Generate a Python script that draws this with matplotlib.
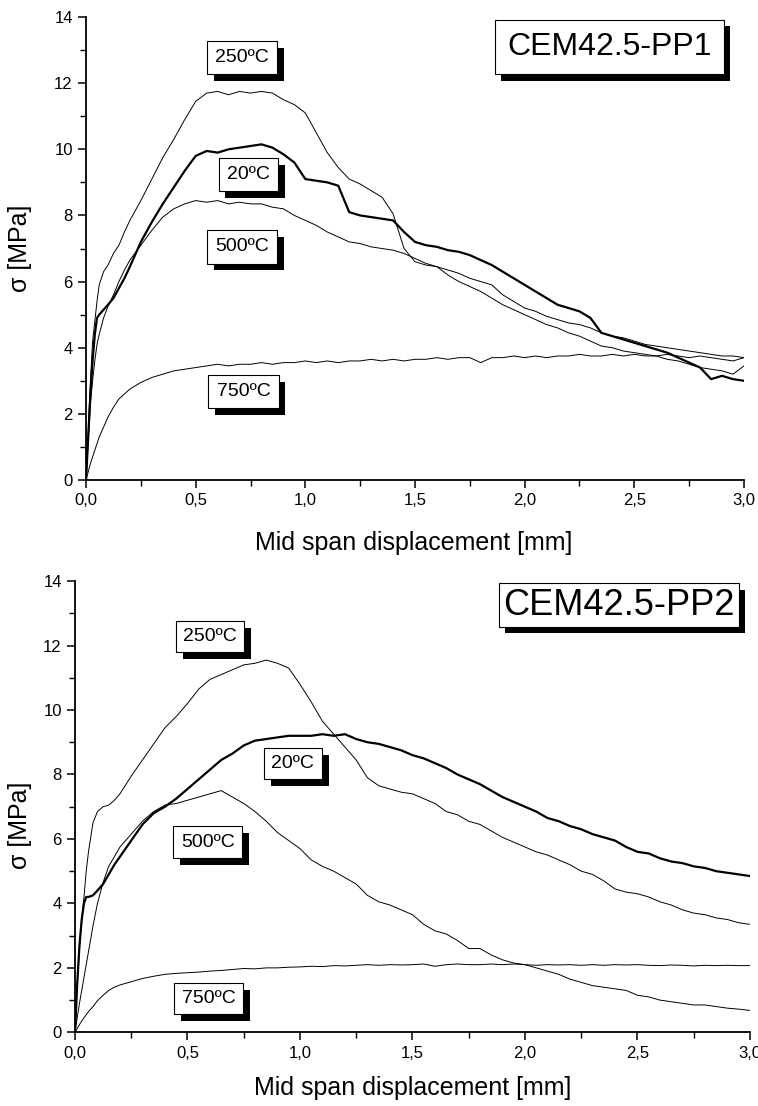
import matplotlib
matplotlib.use("Agg")
import matplotlib.pyplot as plt
import matplotlib.patheffects as pe
from matplotlib.ticker import MultipleLocator, FuncFormatter

plt.rcParams['font.family'] = ['Liberation Sans', 'DejaVu Sans']

# displacement grid (mm), shared by all curves
x = [0, 0.01, 0.02, 0.03, 0.04, 0.05, 0.06, 0.08, 0.10, 0.125, 0.15, 0.175, 0.20,
     0.25, 0.30, 0.35, 0.40, 0.45, 0.50, 0.55, 0.60, 0.65, 0.70, 0.75, 0.80, 0.85,
     0.90, 0.95, 1.00, 1.05, 1.10, 1.15, 1.20, 1.25, 1.30, 1.35, 1.40, 1.45, 1.50,
     1.55, 1.60, 1.65, 1.70, 1.75, 1.80, 1.85, 1.90, 1.95, 2.00, 2.05, 2.10, 2.15,
     2.20, 2.25, 2.30, 2.35, 2.40, 2.45, 2.50, 2.55, 2.60, 2.65, 2.70, 2.75, 2.80,
     2.85, 2.90, 2.95, 3.00]

# CEM42.5-PP1 stress (MPa)
pp1_20 = [0, 1.3, 2.6, 3.6, 4.4, 4.9, 5.0, 5.15, 5.3, 5.5, 5.8, 6.1, 6.45,
          7.2, 7.8, 8.35, 8.85, 9.35, 9.8, 9.95, 9.9, 10.0, 10.05, 10.1, 10.15, 10.05,
          9.85, 9.6, 9.1, 9.05, 9.0, 8.9, 8.1, 8.0, 7.95, 7.9, 7.85, 7.5, 7.2,
          7.1, 7.05, 6.95, 6.9, 6.8, 6.65, 6.5, 6.3, 6.1, 5.9, 5.7, 5.5, 5.3,
          5.2, 5.1, 4.9, 4.45, 4.35, 4.25, 4.15, 4.05, 3.95, 3.85, 3.7, 3.55, 3.4,
          3.05, 3.15, 3.05, 3.0]
pp1_250 = [0, 1.5, 3.0, 4.2, 4.8, 5.4, 5.9, 6.3, 6.5, 6.85, 7.1, 7.5, 7.85,
           8.45, 9.1, 9.75, 10.3, 10.9, 11.45, 11.7, 11.75, 11.65, 11.75, 11.7, 11.75, 11.7,
           11.5, 11.35, 11.1, 10.5, 9.9, 9.45, 9.1, 8.95, 8.75, 8.55, 8.05, 7.0, 6.6,
           6.5, 6.45, 6.35, 6.25, 6.1, 6.0, 5.9, 5.6, 5.4, 5.2, 5.1, 4.95, 4.85,
           4.75, 4.7, 4.6, 4.45, 4.35, 4.3, 4.2, 4.1, 4.05, 4.0, 3.95, 3.9, 3.85,
           3.8, 3.75, 3.75, 3.7]
pp1_500 = [0, 1.2, 2.3, 3.0, 3.6, 4.1, 4.4, 4.9, 5.25, 5.6, 6.0, 6.35, 6.65,
           7.1, 7.55, 7.95, 8.2, 8.35, 8.45, 8.4, 8.45, 8.35, 8.4, 8.35, 8.35, 8.25,
           8.2, 8.0, 7.85, 7.7, 7.5, 7.35, 7.2, 7.15, 7.05, 7.0, 6.95, 6.85, 6.7,
           6.55, 6.45, 6.2, 6.0, 5.85, 5.7, 5.5, 5.3, 5.15, 5.0, 4.85, 4.7, 4.6,
           4.45, 4.35, 4.2, 4.05, 4.0, 3.9, 3.85, 3.8, 3.75, 3.65, 3.6, 3.5, 3.4,
           3.35, 3.3, 3.2, 3.45]
pp1_750 = [0, 0.25, 0.5, 0.7, 0.9, 1.1, 1.3, 1.6, 1.9, 2.2, 2.45, 2.6, 2.75,
           2.95, 3.1, 3.2, 3.3, 3.35, 3.4, 3.45, 3.5, 3.45, 3.5, 3.5, 3.55, 3.5,
           3.55, 3.55, 3.6, 3.55, 3.6, 3.55, 3.6, 3.6, 3.65, 3.6, 3.65, 3.6, 3.65,
           3.65, 3.7, 3.65, 3.7, 3.7, 3.55, 3.7, 3.7, 3.75, 3.7, 3.75, 3.7, 3.75,
           3.75, 3.8, 3.75, 3.75, 3.8, 3.75, 3.8, 3.75, 3.75, 3.8, 3.75, 3.7, 3.75,
           3.7, 3.65, 3.6, 3.7]

# CEM42.5-PP2 stress (MPa)
pp2_20 = [0, 1.5, 2.7, 3.5, 4.0, 4.2, 4.2, 4.25, 4.4, 4.6, 4.9, 5.2, 5.45,
          5.95, 6.45, 6.8, 7.0, 7.25, 7.55, 7.85, 8.15, 8.45, 8.65, 8.9, 9.05, 9.1,
          9.15, 9.2, 9.2, 9.2, 9.25, 9.2, 9.25, 9.1, 9.0, 8.95, 8.85, 8.75, 8.6,
          8.5, 8.35, 8.2, 8.0, 7.85, 7.7, 7.5, 7.3, 7.15, 7.0, 6.85, 6.65, 6.55,
          6.4, 6.3, 6.15, 6.05, 5.95, 5.75, 5.6, 5.55, 5.4, 5.3, 5.25, 5.15, 5.1,
          5.0, 4.95, 4.9, 4.85]
pp2_250 = [0, 1.5, 2.6, 3.5, 4.2, 5.0, 5.6, 6.5, 6.85, 7.0, 7.05, 7.2, 7.4,
           7.95, 8.45, 8.95, 9.45, 9.8, 10.2, 10.65, 10.95, 11.1, 11.25, 11.4, 11.45, 11.55,
           11.45, 11.3, 10.8, 10.25, 9.65, 9.25, 8.85, 8.45, 7.9, 7.65, 7.55, 7.45, 7.4,
           7.25, 7.1, 6.85, 6.75, 6.55, 6.45, 6.25, 6.05, 5.9, 5.75, 5.6, 5.5, 5.35,
           5.2, 5.0, 4.9, 4.7, 4.45, 4.35, 4.3, 4.2, 4.05, 3.95, 3.8, 3.7, 3.65,
           3.55, 3.5, 3.4, 3.35]
pp2_500 = [0, 0.45, 0.9, 1.3, 1.7, 2.1, 2.5, 3.3, 4.0, 4.65, 5.15, 5.45, 5.75,
           6.15, 6.55, 6.85, 7.05, 7.1, 7.2, 7.3, 7.4, 7.5, 7.3, 7.1, 6.85, 6.55,
           6.2, 5.95, 5.7, 5.35, 5.15, 5.0, 4.8, 4.6, 4.25, 4.05, 3.95, 3.8, 3.65,
           3.35, 3.15, 3.05, 2.85, 2.6, 2.6, 2.4, 2.25, 2.15, 2.1, 2.0, 1.9, 1.8,
           1.65, 1.55, 1.45, 1.4, 1.35, 1.3, 1.15, 1.1, 1.0, 0.95, 0.9, 0.85, 0.85,
           0.8, 0.75, 0.72, 0.68]
pp2_750 = [0, 0.12, 0.24, 0.35, 0.45, 0.55, 0.64, 0.8, 0.98, 1.15, 1.3, 1.4, 1.47,
           1.57, 1.67, 1.74, 1.8, 1.83, 1.85, 1.87, 1.9, 1.92, 1.95, 1.98, 1.97, 2.0,
           2.0, 2.02, 2.03, 2.05, 2.04, 2.07, 2.06, 2.08, 2.1, 2.08, 2.1, 2.09, 2.1,
           2.12, 2.05, 2.1, 2.12, 2.1, 2.1, 2.12, 2.1, 2.12, 2.1, 2.08, 2.1, 2.09,
           2.1, 2.08, 2.1, 2.08, 2.1, 2.09, 2.1, 2.08, 2.07, 2.09, 2.08, 2.06, 2.08,
           2.07, 2.08, 2.07, 2.07]

fig = plt.figure(figsize=(7.58, 11.06), dpi=100)
ax1 = fig.add_axes([0.1135, 0.566, 0.868, 0.4186])
ax2 = fig.add_axes([0.0989, 0.0666, 0.8905, 0.408])

comma = FuncFormatter(lambda v, p: f'{v:.1f}'.replace('.', ','))


def tag(ax, xp, yp, s, fs, pad, sh=5):
    # white label box with a solid black drop shadow
    t = ax.text(xp, yp, s, fontsize=fs, ha='center', va='center', color='black', zorder=6,
                bbox=dict(boxstyle=f'square,pad={pad}', fc='white', ec='black', lw=0.8))
    t.get_bbox_patch().set_path_effects([
        pe.SimplePatchShadow(offset=(sh, -sh), shadow_rgbFace='black', alpha=1.0),
        pe.Normal()])


def style(ax):
    ax.set_xlim(0, 3.0)
    ax.set_ylim(0, 14)
    ax.spines['top'].set_visible(False)
    ax.spines['right'].set_visible(False)
    ax.spines['left'].set_linewidth(1.3)
    ax.spines['bottom'].set_linewidth(1.3)
    ax.xaxis.set_major_locator(MultipleLocator(0.5))
    ax.xaxis.set_minor_locator(MultipleLocator(0.25))
    ax.yaxis.set_major_locator(MultipleLocator(2))
    ax.yaxis.set_minor_locator(MultipleLocator(1))
    ax.xaxis.set_major_formatter(comma)
    ax.tick_params(which='major', direction='out', length=6, width=1.1, labelsize=12)
    ax.tick_params(which='minor', direction='out', length=4, width=1.0)


# top panel
ax1.plot(x, pp1_250, color='black', lw=0.7)
ax1.plot(x, pp1_500, color='black', lw=0.7)
ax1.plot(x, pp1_750, color='black', lw=0.7)
ax1.plot(x, pp1_20, color='black', lw=1.6)
style(ax1)
tag(ax1, 0.711, 12.78, '250ºC', 14, 0.42)
tag(ax1, 0.739, 9.24, '20ºC', 14, 0.42)
tag(ax1, 0.711, 7.05, '500ºC', 14, 0.42)
tag(ax1, 0.718, 2.68, '750ºC', 14, 0.42)
tag(ax1, 2.387, 13.09, 'CEM42.5-PP1', 23, 0.38, sh=4.5)

# bottom panel
ax2.plot(x, pp2_250, color='black', lw=0.7)
ax2.plot(x, pp2_500, color='black', lw=0.7)
ax2.plot(x, pp2_750, color='black', lw=0.7)
ax2.plot(x, pp2_20, color='black', lw=1.6)
style(ax2)
tag(ax2, 0.601, 12.28, '250ºC', 14, 0.38)
tag(ax2, 0.968, 8.34, '20ºC', 14, 0.38)
tag(ax2, 0.59, 5.9, '500ºC', 14, 0.38)
tag(ax2, 0.593, 1.05, '750ºC', 14, 0.38)
tag(ax2, 2.417, 13.25, 'CEM42.5-PP2', 26, 0.12, sh=4.5)

# axis titles
fig.text(0.546, 1 - 543 / 1106, 'Mid span displacement [mm]', fontsize=18, ha='center', va='center')
fig.text(0.545, 1 - 1088 / 1106, 'Mid span displacement [mm]', fontsize=18, ha='center', va='center')
fig.text(0.026, 1 - 248 / 1106, 'σ [MPa]', fontsize=18, rotation=90, ha='center', va='center')
fig.text(0.026, 1 - 825 / 1106, 'σ [MPa]', fontsize=18, rotation=90, ha='center', va='center')

fig.savefig('out.png', dpi=100)
